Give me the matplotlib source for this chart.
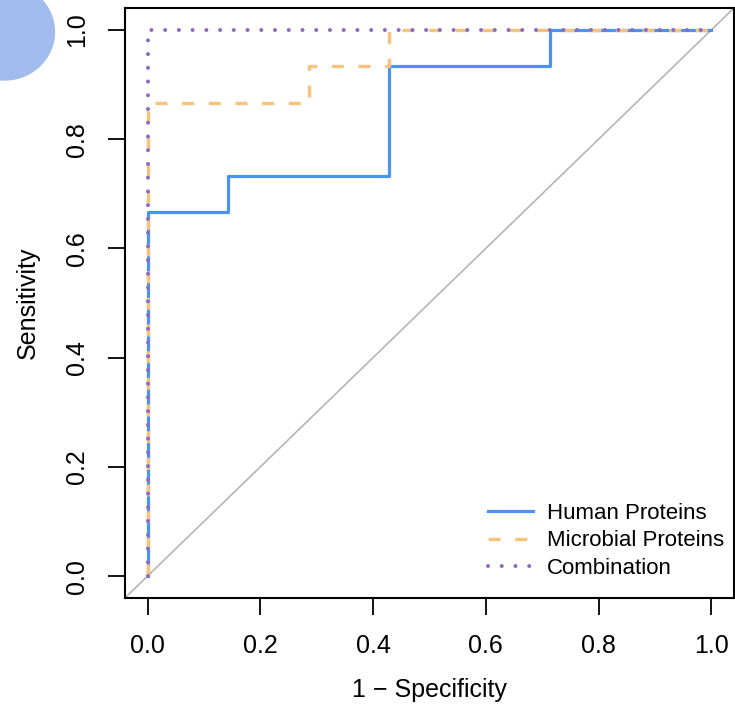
import matplotlib.pyplot as plt
from matplotlib.patches import Circle

plt.rcParams['font.family'] = ['Liberation Sans', 'DejaVu Sans']

# ROC step curves (1 - specificity, sensitivity)
human_fpr = [0, 0, 0.143, 0.143, 0.429, 0.429, 0.714, 0.714, 1.0]
human_tpr = [0, 0.667, 0.667, 0.733, 0.733, 0.933, 0.933, 1.0, 1.0]
microbial_fpr = [0, 0, 0.286, 0.286, 0.429, 0.429, 1.0]
microbial_tpr = [0, 0.867, 0.867, 0.933, 0.933, 1.0, 1.0]
combo_fpr = [0, 0, 1.0]
combo_tpr = [0, 1.0, 1.0]

ticks = [0.0, 0.2, 0.4, 0.6, 0.8, 1.0]
tick_labels = ['0.0', '0.2', '0.4', '0.6', '0.8', '1.0']

fig = plt.figure(figsize=(7.35, 7.08), dpi=100)
ax = fig.add_axes([0.170, 0.1554, 0.8286, 0.8333])

# decorative circle in the corner of the screenshot
fig.patches.append(Circle((0.006, 0.955), 0.069, transform=fig.transFigure,
                          facecolor='#a3bcef', edgecolor='none', zorder=0))

ax.axline((0, 0), (1, 1), color='#b5b5b5', lw=1.2, zorder=1)
ax.plot(human_fpr, human_tpr, color='#4a94f0', lw=2.3, label='Human Proteins', zorder=3)
ax.plot(microbial_fpr, microbial_tpr, color='#f7c27a', lw=2.4, ls=(0, (3.6, 4.4)),
        label='Microbial Proteins', zorder=4)
ax.plot(combo_fpr, combo_tpr, color='#8a6cc0', lw=2.9, ls=(0, (0.01, 3.4)),
        dash_capstyle='round', label='Combination', zorder=5)

ax.set_xlim(-0.04, 1.04)
ax.set_ylim(-0.04, 1.04)
ax.set_xticks(ticks)
ax.set_xticklabels(tick_labels)
ax.set_yticks(ticks)
ax.set_yticklabels(tick_labels, rotation=90, va='center')
ax.tick_params(direction='out', length=12, width=1.3, labelsize=18)
ax.tick_params(axis='x', pad=14)
ax.tick_params(axis='y', pad=14)
for s in ax.spines.values():
    s.set_linewidth(1.5)

ax.set_xlabel('1 \u2212 Specificity', fontsize=18, labelpad=14)
ax.set_ylabel('Sensitivity', fontsize=18, labelpad=18)

ax.legend(loc='lower right', frameon=False, fontsize=16, handlelength=2.0,
          handletextpad=0.63, labelspacing=0.3, borderaxespad=0,
          bbox_to_anchor=(0.998, 0.017))

fig.savefig('out.png', dpi=100)
